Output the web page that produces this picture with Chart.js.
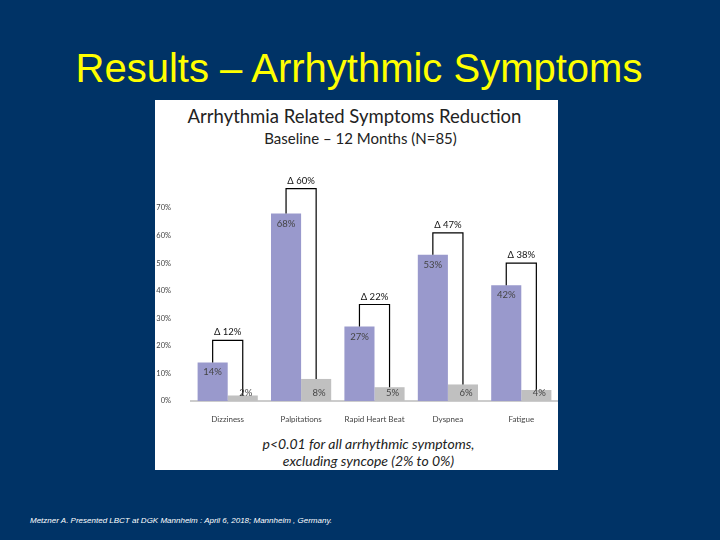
<!DOCTYPE html>
<html><head><meta charset="utf-8">
<script src="https://cdn.jsdelivr.net/npm/chart.js@4"></script>
<style>
body{margin:0;width:720px;height:540px;background:#003366;position:relative;overflow:hidden;font-family:"Liberation Sans",Arial,sans-serif}
#title{position:absolute;top:46px;left:0;width:718px;text-align:center;color:#ffff00;font-size:40px}
#panel{position:absolute;left:155px;top:100px;width:403px;height:370px;background:#fff}
.t{position:absolute;left:0;width:403px;text-align:center;font-family:Lato,sans-serif;color:#222}
#cw{position:absolute;left:0;top:70px;width:403px;height:255px}
#foot{position:absolute;left:30px;top:516px;color:#fff;font-size:8px;font-style:italic}
</style></head><body>
<div id="title">Results – Arrhythmic Symptoms</div>
<div id="panel">
<div class="t" style="top:5px;font-size:18.5px;left:-2px">Arrhythmia Related Symptoms Reduction</div>
<div class="t" style="top:29px;font-size:15px;left:4px">Baseline – 12 Months (N=85)</div>
<div id="cw"><canvas id="c"></canvas></div>
<div class="t" style="top:335px;font-size:14px;font-style:italic;left:12px">p&lt;0.01 for all arrhythmic symptoms,<br>excluding syncope (2% to 0%)</div>
</div>
<div id="foot">Metzner A. Presented LBCT at DGK Mannheim : April 6, 2018; Mannheim , Germany.</div>
<script>
const categories=["Dizziness","Palpitations","Rapid Heart Beat","Dyspnea","Fatigue"];
const baseline=[14,68,27,53,42];
const months12=[2,8,5,6,4];
const deltaLabels=["Δ 12%","Δ 60%","Δ 22%","Δ 47%","Δ 38%"];
const bracketLevels=[22,77,35,61,50];
const yTicks=[0,10,20,30,40,50,60,70];
const ann={id:'ann',afterDatasetsDraw(ch){
 const ctx=ch.ctx,y=ch.scales.y,m0=ch.getDatasetMeta(0),m1=ch.getDatasetMeta(1);
 ctx.save();ctx.font='9.5px Lato, sans-serif';ctx.textAlign='center';
 categories.forEach((c,i)=>{
  const a=m0.data[i],b=m1.data[i],ly=y.getPixelForValue(bracketLevels[i]);
  ctx.strokeStyle='#000';ctx.lineWidth=1.2;ctx.beginPath();
  ctx.moveTo(a.x,a.y);ctx.lineTo(a.x,ly);ctx.lineTo(b.x,ly);ctx.lineTo(b.x,b.y);ctx.stroke();
  ctx.fillStyle='#111';ctx.fillText(deltaLabels[i],(a.x+b.x)/2,ly-5);
  ctx.fillStyle='#444';
  ctx.fillText(baseline[i]+'%',a.x,a.y+13);
  ctx.fillText(months12[i]+'%',b.x+3,y.getPixelForValue(0)-5);
 });
 ctx.restore();}};
new Chart(document.getElementById('c'),{type:'bar',
 data:{labels:categories,datasets:[
  {label:'Baseline',data:baseline,backgroundColor:'#9999cc'},
  {label:'12 Months',data:months12,backgroundColor:'#c0c0c0'}]},
 options:{responsive:true,maintainAspectRatio:false,animation:false,
  layout:{padding:{top:38,right:0,left:0,bottom:0}},
  plugins:{legend:{display:false},tooltip:{enabled:false}},
  datasets:{bar:{categoryPercentage:0.82,barPercentage:1}},
  scales:{
   x:{grid:{display:false},border:{color:'#ccc',width:2},afterFit(s){s.height=24},
      ticks:{color:'#444',font:{size:8,family:'Lato'},padding:6}},
   y:{min:0,max:70,afterFit(s){s.width=36},grid:{display:false},border:{display:false},
      afterBuildTicks(s){s.ticks=yTicks.map(v=>({value:v}))},
      ticks:{color:'#444',font:{size:7.5,family:'Lato'},callback:v=>v+'%',padding:12}}}},
 plugins:[ann]});
</script></body></html>
